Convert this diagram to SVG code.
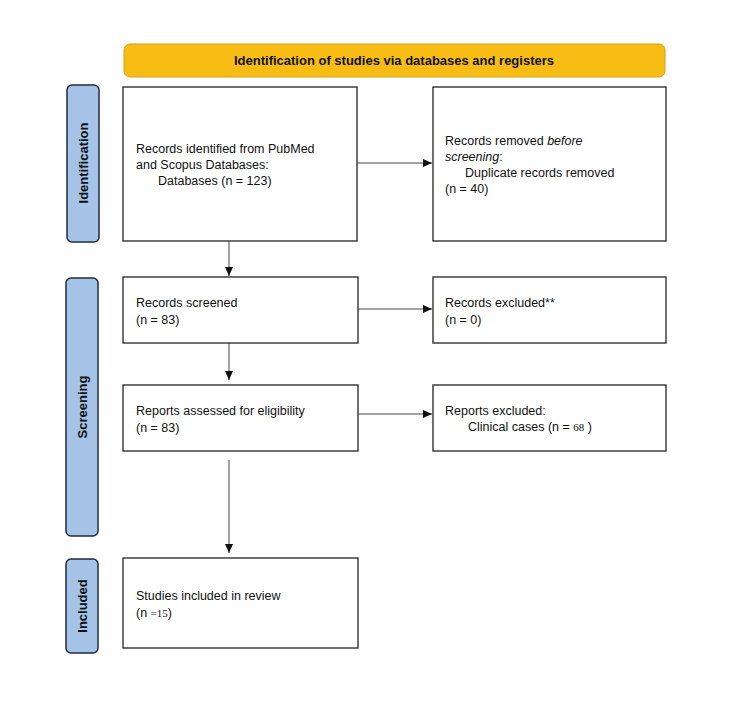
<svg xmlns="http://www.w3.org/2000/svg" width="750" height="705" viewBox="0 0 750 705">
<style>
.box{fill:#fff;stroke:#222;stroke-width:1.3}
.side{fill:#a4c3e6;stroke:#1e2d3d;stroke-width:1.5}
.t{font-family:"Liberation Sans",Arial,sans-serif;font-size:12.5px;fill:#111}
.st{font-family:"Liberation Sans",Arial,sans-serif;font-size:13px;font-weight:bold;fill:#111}
.c{stroke:#444;stroke-width:1;fill:none;marker-end:url(#a)}
</style>
<defs><marker id="a" markerWidth="10" markerHeight="10" refX="9" refY="5" orient="auto" markerUnits="userSpaceOnUse"><path d="M0,1 L9,5 L0,9 Z" fill="#111"/></marker></defs>
<rect width="750" height="705" fill="#fff"/>
<g id="header"><rect x="124" y="44" width="541" height="33" rx="6" fill="#f7bd14" stroke="#d9a010"/><text class="st" x="394" y="65" text-anchor="middle">Identification of studies via databases and registers</text></g>
<g id="side-identification"><rect class="side" x="67" y="85" width="32" height="157" rx="5"/><text class="st" transform="translate(88,163) rotate(-90)" text-anchor="middle">Identification</text></g>
<g id="side-screening"><rect class="side" x="66" y="278" width="32" height="258" rx="5"/><text class="st" transform="translate(87,407) rotate(-90)" text-anchor="middle">Screening</text></g>
<g id="side-included"><rect class="side" x="66" y="559" width="32" height="94" rx="5"/><text class="st" transform="translate(87,606) rotate(-90)" text-anchor="middle">Included</text></g>
<g id="n1"><rect class="box" x="123" y="87" width="234" height="154"/><text class="t" x="136" y="153">Records identified from PubMed</text><text class="t" x="136" y="169">and Scopus Databases:</text><text class="t" x="158" y="185">Databases (n = 123)</text></g>
<g id="n2"><rect class="box" x="433" y="87" width="233" height="154"/><text class="t" x="445" y="145">Records removed <tspan font-style="italic">before</tspan></text><text class="t" x="445" y="161"><tspan font-style="italic">screening</tspan>:</text><text class="t" x="465" y="177">Duplicate records removed</text><text class="t" x="445" y="193">(n = 40)</text></g>
<g id="n3"><rect class="box" x="123" y="277" width="235" height="66"/><text class="t" x="136" y="307">Records screened</text><text class="t" x="136" y="324">(n = 83)</text></g>
<g id="n4"><rect class="box" x="433" y="277" width="233" height="66"/><text class="t" x="445" y="307">Records excluded**</text><text class="t" x="445" y="324">(n = 0)</text></g>
<g id="n5"><rect class="box" x="123" y="385" width="235" height="66"/><text class="t" x="136" y="415">Reports assessed for eligibility</text><text class="t" x="136" y="432">(n = 83)</text></g>
<g id="n6"><rect class="box" x="433" y="385" width="233" height="66"/><text class="t" x="445" y="415">Reports excluded:</text><text class="t" x="468" y="431">Clinical cases (n = <tspan font-family="Liberation Serif,serif" font-size="11">68</tspan> )</text></g>
<g id="n7"><rect class="box" x="123" y="558" width="235" height="90"/><text class="t" x="136" y="600">Studies included in review</text><text class="t" x="136" y="617">(n <tspan font-family="Liberation Serif,serif" font-size="11">=15</tspan>)</text></g>
<g id="connectors">
<line class="c" x1="357" y1="163" x2="432" y2="163"/>
<line class="c" x1="229" y1="241" x2="229" y2="276"/>
<line class="c" x1="358" y1="309" x2="432" y2="309"/>
<line class="c" x1="229" y1="343" x2="229" y2="380"/>
<line class="c" x1="358" y1="414" x2="432" y2="414"/>
<line class="c" x1="229" y1="460" x2="229" y2="553"/>
</g>
</svg>
